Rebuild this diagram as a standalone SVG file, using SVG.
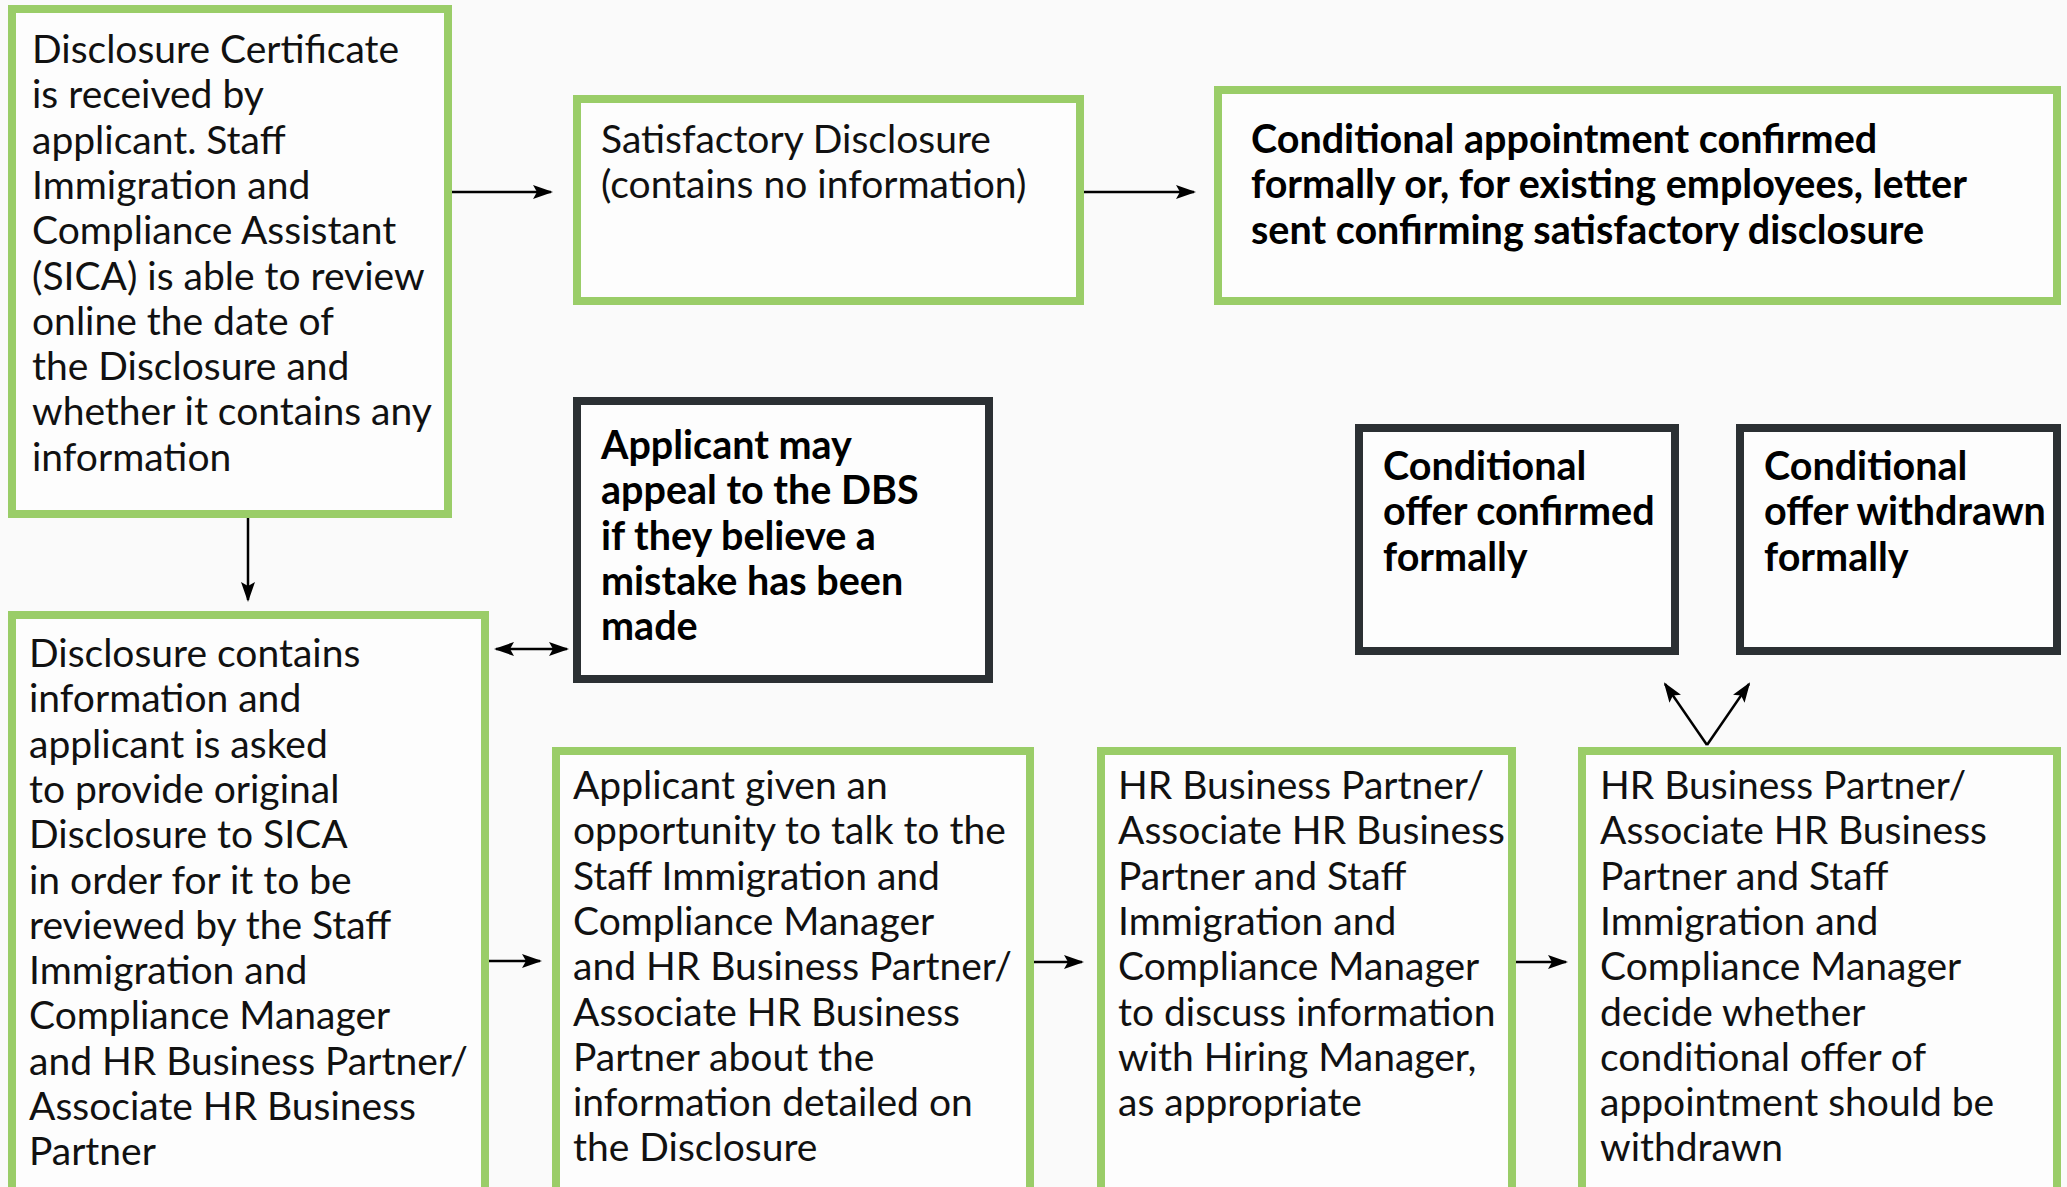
<svg xmlns="http://www.w3.org/2000/svg" width="2067" height="1187" viewBox="0 0 2067 1187">
<defs>
<style>
.g{fill:#fdfdfd;stroke:#9acd68;stroke-width:8}
.d{fill:#fdfdfd;stroke:#2b3033;stroke-width:8}
.t{font-family:Lato,"Liberation Sans",sans-serif;font-size:39px;fill:#111}
.b{font-family:Lato,"Liberation Sans",sans-serif;font-size:39.5px;font-weight:bold;fill:#000}
.c{stroke:#000;stroke-width:2.5;fill:none;marker-end:url(#ah)}
</style>
<marker id="ah" markerUnits="userSpaceOnUse" markerWidth="20" markerHeight="14" viewBox="0 0 20 14" refX="18" refY="7" orient="auto-start-reverse">
<path d="M0,0 L20,7 L0,14 L4,7 z" fill="#000"/>
</marker>
</defs>
<rect width="2067" height="1187" fill="#fafafa"/>
<g id="connectors">
<line class="c" x1="452" y1="192" x2="551" y2="192"/>
<line class="c" x1="1084" y1="192" x2="1194" y2="192"/>
<line class="c" x1="248" y1="518" x2="248" y2="600"/>
<line class="c" x1="496" y1="649" x2="567" y2="649" marker-start="url(#ah)"/>
<line class="c" x1="489" y1="961" x2="540" y2="961"/>
<line class="c" x1="1034" y1="962" x2="1082" y2="962"/>
<line class="c" x1="1516" y1="962" x2="1566" y2="962"/>
<line class="c" x1="1707" y1="745" x2="1665" y2="684"/>
<line class="c" x1="1707" y1="745" x2="1749" y2="684"/>
</g>
<g id="n1">
<rect class="g" x="12" y="9" width="436" height="505"/>
<text class="t" x="32" y="63">
<tspan x="32" dy="0">Disclosure Certificate</tspan>
<tspan x="32" dy="45.3">is received by</tspan>
<tspan x="32" dy="45.3">applicant. Staff</tspan>
<tspan x="32" dy="45.3">Immigration and</tspan>
<tspan x="32" dy="45.3">Compliance Assistant</tspan>
<tspan x="32" dy="45.3">(SICA) is able to review</tspan>
<tspan x="32" dy="45.3">online the date of</tspan>
<tspan x="32" dy="45.3">the Disclosure and</tspan>
<tspan x="32" dy="45.3">whether it contains any</tspan>
<tspan x="32" dy="45.3">information</tspan>
</text>
</g>
<g id="n2">
<rect class="g" x="577" y="99" width="503" height="202"/>
<text class="t" x="601" y="153">
<tspan x="601" dy="0">Satisfactory Disclosure</tspan>
<tspan x="601" dy="45.3">(contains no information)</tspan>
</text>
</g>
<g id="n3">
<rect class="g" x="1218" y="90" width="839" height="211"/>
<text class="b" x="1251" y="153">
<tspan x="1251" dy="0">Conditional appointment confirmed</tspan>
<tspan x="1251" dy="45.3">formally or, for existing employees, letter</tspan>
<tspan x="1251" dy="45.3">sent confirming satisfactory disclosure</tspan>
</text>
</g>
<g id="n4">
<rect class="g" x="12" y="615" width="473" height="620"/>
<text class="t" x="29" y="667">
<tspan x="29" dy="0">Disclosure contains</tspan>
<tspan x="29" dy="45.3">information and</tspan>
<tspan x="29" dy="45.3">applicant is asked</tspan>
<tspan x="29" dy="45.3">to provide original</tspan>
<tspan x="29" dy="45.3">Disclosure to SICA</tspan>
<tspan x="29" dy="45.3">in order for it to be</tspan>
<tspan x="29" dy="45.3">reviewed by the Staff</tspan>
<tspan x="29" dy="45.3">Immigration and</tspan>
<tspan x="29" dy="45.3">Compliance Manager</tspan>
<tspan x="29" dy="45.3">and HR Business Partner/</tspan>
<tspan x="29" dy="45.3">Associate HR Business</tspan>
<tspan x="29" dy="45.3">Partner</tspan>
</text>
</g>
<g id="n5">
<rect class="d" x="577" y="401" width="412" height="278"/>
<text class="b" x="601" y="459">
<tspan x="601" dy="0">Applicant may</tspan>
<tspan x="601" dy="45.3">appeal to the DBS</tspan>
<tspan x="601" dy="45.3">if they believe a</tspan>
<tspan x="601" dy="45.3">mistake has been</tspan>
<tspan x="601" dy="45.3">made</tspan>
</text>
</g>
<g id="n6">
<rect class="g" x="556" y="751" width="474" height="500"/>
<text class="t" x="573" y="799">
<tspan x="573" dy="0">Applicant given an</tspan>
<tspan x="573" dy="45.3">opportunity to talk to the</tspan>
<tspan x="573" dy="45.3">Staff Immigration and</tspan>
<tspan x="573" dy="45.3">Compliance Manager</tspan>
<tspan x="573" dy="45.3">and HR Business Partner/</tspan>
<tspan x="573" dy="45.3">Associate HR Business</tspan>
<tspan x="573" dy="45.3">Partner about the</tspan>
<tspan x="573" dy="45.3">information detailed on</tspan>
<tspan x="573" dy="45.3">the Disclosure</tspan>
</text>
</g>
<g id="n7">
<rect class="g" x="1101" y="751" width="411" height="500"/>
<text class="t" x="1118" y="799">
<tspan x="1118" dy="0">HR Business Partner/</tspan>
<tspan x="1118" dy="45.3">Associate HR Business</tspan>
<tspan x="1118" dy="45.3">Partner and Staff</tspan>
<tspan x="1118" dy="45.3">Immigration and</tspan>
<tspan x="1118" dy="45.3">Compliance Manager</tspan>
<tspan x="1118" dy="45.3">to discuss information</tspan>
<tspan x="1118" dy="45.3">with Hiring Manager,</tspan>
<tspan x="1118" dy="45.3">as appropriate</tspan>
</text>
</g>
<g id="n8">
<rect class="g" x="1582" y="751" width="475" height="500"/>
<text class="t" x="1600" y="799">
<tspan x="1600" dy="0">HR Business Partner/</tspan>
<tspan x="1600" dy="45.3">Associate HR Business</tspan>
<tspan x="1600" dy="45.3">Partner and Staff</tspan>
<tspan x="1600" dy="45.3">Immigration and</tspan>
<tspan x="1600" dy="45.3">Compliance Manager</tspan>
<tspan x="1600" dy="45.3">decide whether</tspan>
<tspan x="1600" dy="45.3">conditional offer of</tspan>
<tspan x="1600" dy="45.3">appointment should be</tspan>
<tspan x="1600" dy="45.3">withdrawn</tspan>
</text>
</g>
<g id="n9">
<rect class="d" x="1359" y="428" width="316" height="223"/>
<text class="b" x="1383" y="480">
<tspan x="1383" dy="0">Conditional</tspan>
<tspan x="1383" dy="45.3">offer confirmed</tspan>
<tspan x="1383" dy="45.3">formally</tspan>
</text>
</g>
<g id="n10">
<rect class="d" x="1740" y="428" width="317" height="223"/>
<text class="b" x="1764" y="480">
<tspan x="1764" dy="0">Conditional</tspan>
<tspan x="1764" dy="45.3">offer withdrawn</tspan>
<tspan x="1764" dy="45.3">formally</tspan>
</text>
</g>
</svg>
